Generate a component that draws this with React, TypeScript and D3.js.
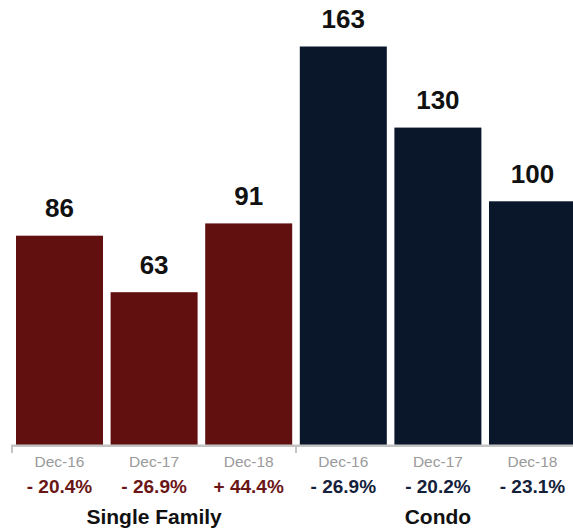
import React from "react";
import * as d3 from "d3";

// Counts by property type and period, with year-over-year change
const groups = ["Single Family", "Condo"];
const periods = ["Dec-16", "Dec-17", "Dec-18"];
const singleFamilyValues = [86, 63, 91];
const condoValues = [163, 130, 100];
const singleFamilyChanges = ["- 20.4%", "- 26.9%", "+ 44.4%"];
const condoChanges = ["- 26.9%", "- 20.2%", "- 23.1%"];

const groupColors = ["#620f0f", "#0a172b"];
const changeColors = ["#6b1616", "#14213a"];

const W = 573;
const H = 532;
const FONT = "'Liberation Sans', Arial, Helvetica, sans-serif";

type Row = { key: string; group: number; period: string; value: number; change: string };

const rows: Row[] = [
  ...periods.map((p, i) => ({
    key: `sf-${p}`,
    group: 0,
    period: p,
    value: singleFamilyValues[i],
    change: singleFamilyChanges[i],
  })),
  ...periods.map((p, i) => ({
    key: `condo-${p}`,
    group: 1,
    period: p,
    value: condoValues[i],
    change: condoChanges[i],
  })),
];

export default function App() {
  const x = d3
    .scaleBand<string>()
    .domain(rows.map((r) => r.key))
    .range([12, 580])
    .paddingInner(0.0803)
    .paddingOuter(0.0423);

  const y = d3.scaleLinear().domain([0, 163]).range([447, 46.5]);

  const axisY = 445.8;
  const bw = x.bandwidth();

  // group boundaries for the axis tick marks
  const groupEdges = [12, 296, 580];

  return (
    <svg
      width={W}
      height={H}
      style={{ position: "absolute", left: 0, top: 0, background: "#fff" }}
      fontFamily={FONT}
    >
      {rows.map((r) => {
        const x0 = x(r.key)!;
        const cx = x0 + bw / 2;
        return (
          <g key={r.key}>
            <rect
              x={x0}
              y={y(r.value)}
              width={bw}
              height={y(0) - y(r.value)}
              fill={groupColors[r.group]}
            />
            <text
              x={cx}
              y={y(r.value) - 18.5}
              textAnchor="middle"
              fontSize={26}
              fontWeight="bold"
              fill="#111"
            >
              {r.value}
            </text>
            <text x={cx} y={467} textAnchor="middle" fontSize={15.5} fill="#9a9a9a">
              {r.period}
            </text>
            <text
              x={cx}
              y={493}
              textAnchor="middle"
              fontSize={19}
              fontWeight="bold"
              fill={changeColors[r.group]}
            >
              {r.change}
            </text>
          </g>
        );
      })}

      {/* baseline axis with group separator ticks */}
      <line x1={11} x2={W} y1={axisY} y2={axisY} stroke="#c4c4c4" strokeWidth={2.5} />
      {groupEdges.map((gx, i) => (
        <line key={i} x1={gx} x2={gx} y1={axisY} y2={453} stroke="#c4c4c4" strokeWidth={2} />
      ))}

      {groups.map((g, gi) => {
        const first = x(rows[gi * 3].key)!;
        const last = x(rows[gi * 3 + 2].key)! + bw;
        return (
          <text
            key={g}
            x={(first + last) / 2}
            y={524}
            textAnchor="middle"
            fontSize={21}
            fontWeight="bold"
            fill="#111"
          >
            {g}
          </text>
        );
      })}
    </svg>
  );
}
